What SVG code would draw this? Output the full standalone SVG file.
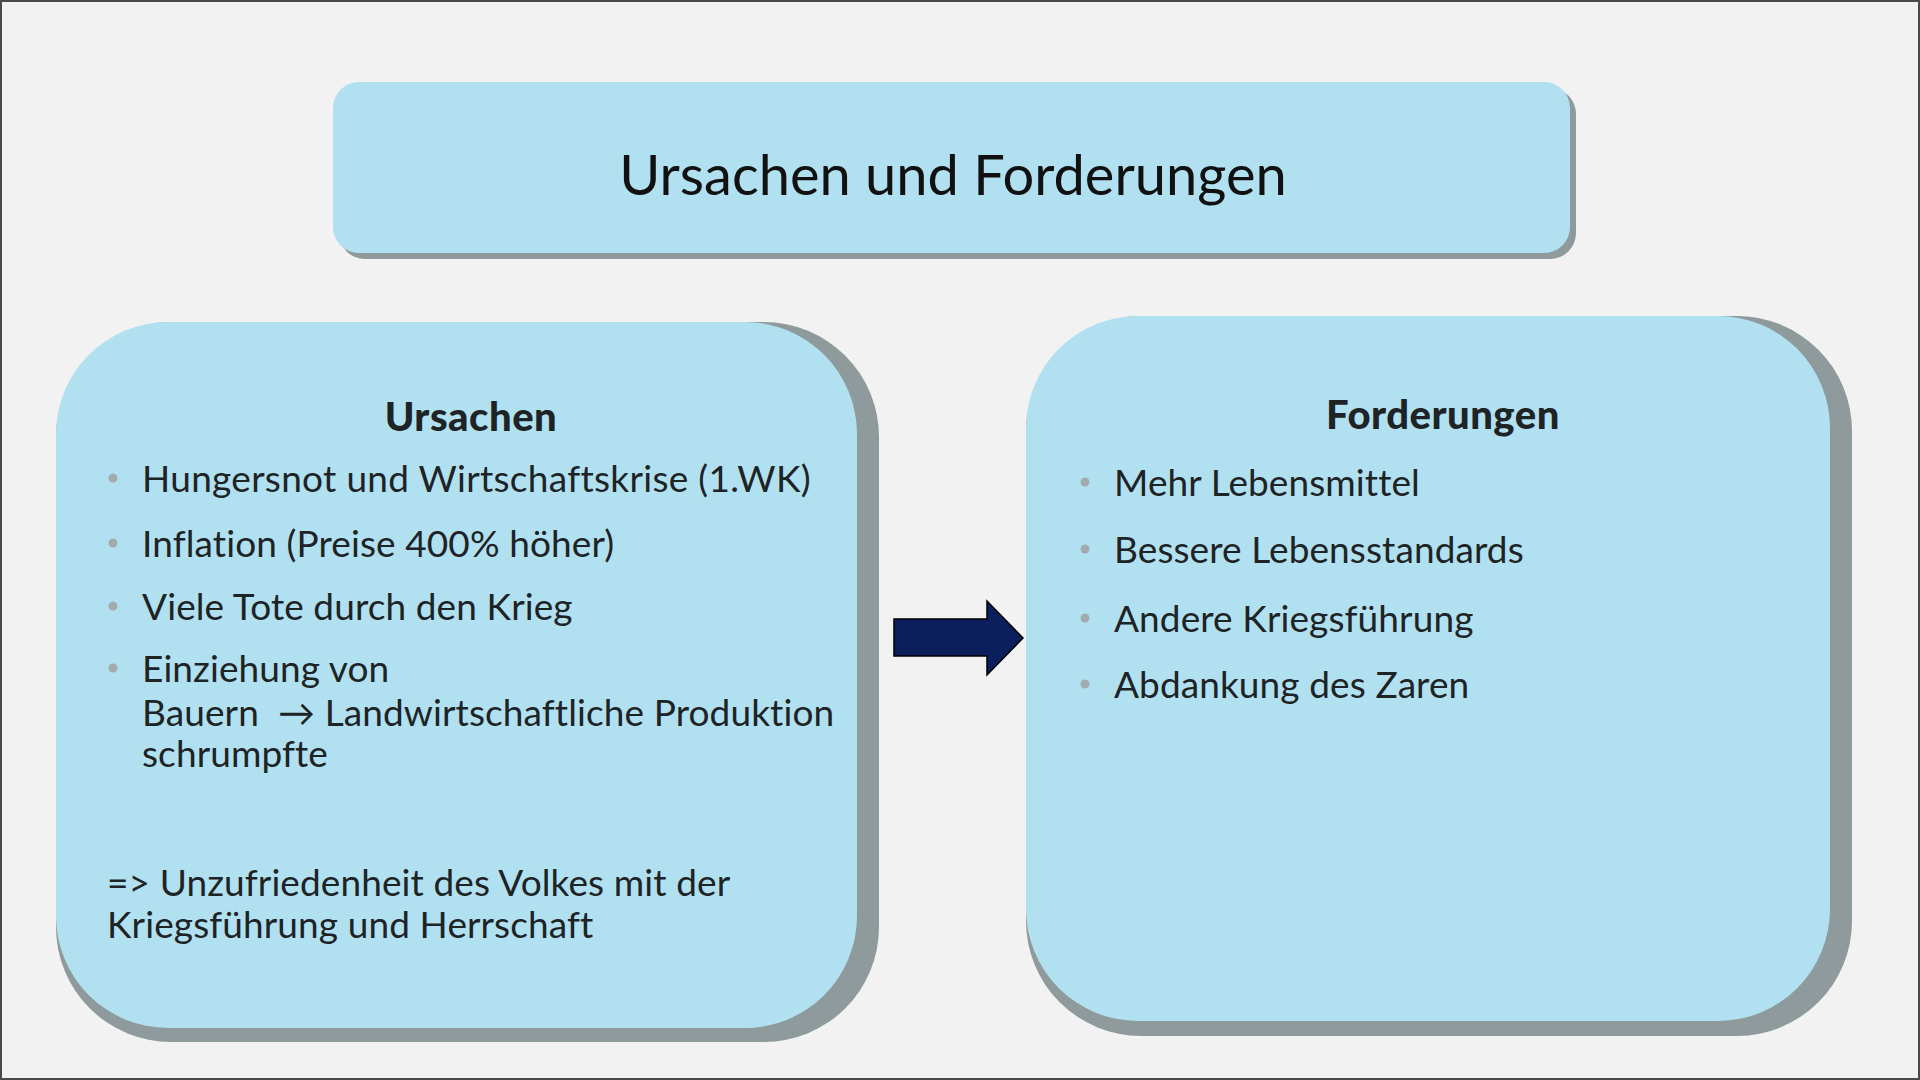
<svg xmlns="http://www.w3.org/2000/svg" width="1920" height="1080" viewBox="0 0 1920 1080">
  <style>
    .box { fill: #B1E1F0; }
    .shadow { fill: #8E9A9B; }
    .txt { font-family: Lato, "Open Sans", sans-serif; font-size: 37px; fill: #1E2326; letter-spacing: 0.1px; }
    .wide { letter-spacing: 0.3px; }
    .head { font-family: Lato, "Open Sans", sans-serif; font-size: 40px; font-weight: 900; fill: #1E2326; text-anchor: middle; letter-spacing: 0.5px; }
    .title { font-family: Lato, "Open Sans", sans-serif; font-size: 56px; fill: #111111; text-anchor: middle; }
    .bullet { fill: #A3ABAF; }
  </style>
  <rect x="0" y="0" width="1920" height="1080" fill="#F2F2F2"/>
  <rect x="1" y="1" width="1918" height="1078" fill="none" stroke="#4A4A4A" stroke-width="2"/>

  <g id="title">
    <rect class="shadow" x="339" y="88" width="1237" height="171" rx="26"/>
    <rect class="box" x="333" y="82" width="1237" height="171" rx="26"/>
    <text class="title" x="953" y="195">Ursachen und Forderungen</text>
  </g>

  <g id="ursachen">
    <rect class="shadow" x="56" y="322" width="823" height="720" rx="115"/>
    <rect class="box" x="56" y="322" width="801" height="706" rx="112"/>
    <text class="head" x="471" y="431">Ursachen</text>
    <circle class="bullet" cx="113" cy="478" r="4.5"/>
    <text class="txt wide" x="142" y="492">Hungersnot und Wirtschaftskrise (1.WK)</text>
    <circle class="bullet" cx="113" cy="543" r="4.5"/>
    <text class="txt" x="142" y="557">Inflation (Preise 400% höher)</text>
    <circle class="bullet" cx="113" cy="606" r="4.5"/>
    <text class="txt" x="142" y="620">Viele Tote durch den Krieg</text>
    <circle class="bullet" cx="113" cy="668" r="4.5"/>
    <text class="txt" x="142" y="682">Einziehung von</text>
    <text class="txt" x="142" y="726">Bauern&#160; → Landwirtschaftliche Produktion</text>
    <text class="txt" x="142" y="767">schrumpfte</text>
    <text class="txt" x="107" y="896">=&gt; Unzufriedenheit des Volkes mit der</text>
    <text class="txt" x="107" y="938">Kriegsführung und Herrschaft</text>
  </g>

  <g id="forderungen">
    <rect class="shadow" x="1026" y="316" width="826" height="720" rx="115"/>
    <rect class="box" x="1026" y="316" width="804" height="705" rx="112"/>
    <text class="head" x="1443" y="429">Forderungen</text>
    <circle class="bullet" cx="1085" cy="482" r="4.5"/>
    <text class="txt" x="1114" y="496">Mehr Lebensmittel</text>
    <circle class="bullet" cx="1085" cy="549" r="4.5"/>
    <text class="txt" x="1114" y="563">Bessere Lebensstandards</text>
    <circle class="bullet" cx="1085" cy="618" r="4.5"/>
    <text class="txt" x="1114" y="632">Andere Kriegsführung</text>
    <circle class="bullet" cx="1085" cy="684" r="4.5"/>
    <text class="txt" x="1114" y="698">Abdankung des Zaren</text>
  </g>

  <g id="connectors">
    <polygon points="894,619 987,619 987,601 1023,638 987,675 987,656 894,656" fill="#0B1F5C" stroke="#000000" stroke-width="1.5" stroke-linejoin="miter"/>
  </g>
</svg>
